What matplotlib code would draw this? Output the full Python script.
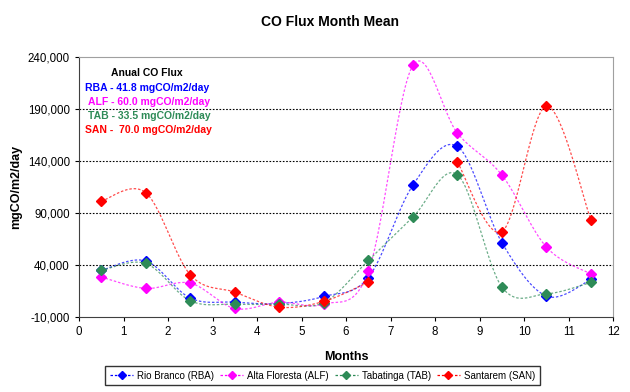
import numpy as np
import matplotlib.pyplot as plt

plt.rcParams['font.family'] = ['Liberation Sans', 'DejaVu Sans']

# Datos
meses = [0.5, 1.5, 2.5, 3.5, 4.5, 5.5, 6.5, 7.5, 8.5, 9.5, 10.5, 11.5]
rba = [35000, 44000, 8300, 4400, 3000, 9900, 28100, 116900, 154100, 61500, 10200, 26200]
alf = [28500, 17600, 22700, -1700, 4400, 2500, 33900, 232000, 166900, 126500, 57300, 31400]
tab = [34900, 41600, 5700, 2500, 2500, 4000, 44500, 86200, 126900, 18900, 12400, 23400]
# SAN no tiene dato en 7.5 (la linea se corta)
san = [101500, 109600, 30700, 14000, -400, 5100, 23700, None, 139000, 72100, 192900, 83300]

series = [
    ('Rio Branco (RBA)', rba, '#0000FF'),
    ('Alta Floresta (ALF)', alf, '#FF00FF'),
    ('Tabatinga (TAB)', tab, '#2E8B57'),
    ('Santarem (SAN)', san, '#FF0000'),
]
anual = [('RBA - 41.8 mgCO/m2/day', '#0000FF'),
         ('ALF - 60.0 mgCO/m2/day', '#FF00FF'),
         ('TAB - 33.5 mgCO/m2/day', '#2E8B57'),
         ('SAN -  70.0 mgCO/m2/day', '#FF0000')]

"""Suavizado tipo Excel (Bezier con puntos de control a 1/6)"""
def suavizar(x, y, sx=44.5, sy=0.00104, n=30):
    px = np.array(x) * sx
    py = np.array(y) * sy
    xs, ys = [], []
    for i in range(len(px) - 1):
        p0 = np.array([px[max(i - 1, 0)], py[max(i - 1, 0)]])
        p1 = np.array([px[i], py[i]])
        p2 = np.array([px[i + 1], py[i + 1]])
        p3 = np.array([px[min(i + 2, len(px) - 1)], py[min(i + 2, len(px) - 1)]])
        c1 = p1 + (p2 - p0) / 6
        c2 = p2 - (p3 - p1) / 6
        t = np.linspace(0, 1, n)[:, None]
        b = (1 - t) ** 3 * p1 + 3 * (1 - t) ** 2 * t * c1 + 3 * (1 - t) * t ** 2 * c2 + t ** 3 * p2
        xs.extend(b[:, 0])
        ys.extend(b[:, 1])
    return np.array(xs) / sx, np.array(ys) / sy

"""Separa la serie en tramos continuos (sin huecos)"""
def tramos(x, y):
    res, tx, ty = [], [], []
    for a, b in zip(x, y):
        if b is None:
            if tx:
                res.append((tx, ty))
            tx, ty = [], []
        else:
            tx.append(a)
            ty.append(b)
    if tx:
        res.append((tx, ty))
    return res

fig = plt.figure(figsize=(6.3, 3.92), dpi=100)
ax = fig.add_axes([0.1254, 0.191, 0.848, 0.6633])

for nombre, vals, color in series:
    for xv, yv in tramos(meses, vals):
        if len(xv) > 1:
            cx, cy = suavizar(xv, yv)
            ax.plot(cx, cy, linestyle=(0, (2, 1.5)), linewidth=0.9, color=color, alpha=0.7)
        ax.plot(xv, yv, linestyle='none', marker='D', markersize=5, color=color)
    ax.plot([], [], linestyle=(0, (2, 1.5)), linewidth=0.9, color=color, marker='D',
            markersize=4.5, label=nombre)

ax.set_xlim(0, 12)
ax.set_ylim(-10000, 240000)
ax.set_xticks(range(0, 13))
ax.set_yticks(range(-10000, 240001, 50000))
ax.yaxis.set_major_formatter(plt.FuncFormatter(lambda v, p: f'{int(v):,}'))
ax.tick_params(labelsize=8.3, direction='out', length=3)
for y in [40000, 90000, 140000, 190000]:
    ax.axhline(y, color='black', linestyle=(0, (1.5, 1.5)), linewidth=0.8, zorder=0)

ax.spines['top'].set_color('#A0A0A0')
ax.spines['right'].set_color('#A0A0A0')
ax.spines['left'].set_color('#404040')
ax.spines['bottom'].set_color('#404040')

fig.text(0.524, 0.943, 'CO Flux Month Mean', fontsize=10, fontweight='bold',
         ha='center', va='center')
ax.set_xlabel('Months', fontsize=9, fontweight='bold', labelpad=9)
ax.set_ylabel('mgCO/m2/day', fontsize=9, fontweight='bold')

ax.text(0.72, 222000, 'Anual CO Flux', fontsize=7.5, fontweight='bold', color='black')
desp = [0.13, 0.2, 0.2, 0.13]
for i, (txt, col) in enumerate(anual):
    ax.text(desp[i], 207000 - i * 13200, txt, fontsize=7.5, fontweight='bold', color=col)

fig.legend(loc='lower center', bbox_to_anchor=(0.512, 0.005), ncol=4, fontsize=7,
           frameon=True, fancybox=False, edgecolor='black', handlelength=2.4,
           columnspacing=0.6, handletextpad=0.4, borderpad=0.45)

plt.savefig('out.png', dpi=100)
